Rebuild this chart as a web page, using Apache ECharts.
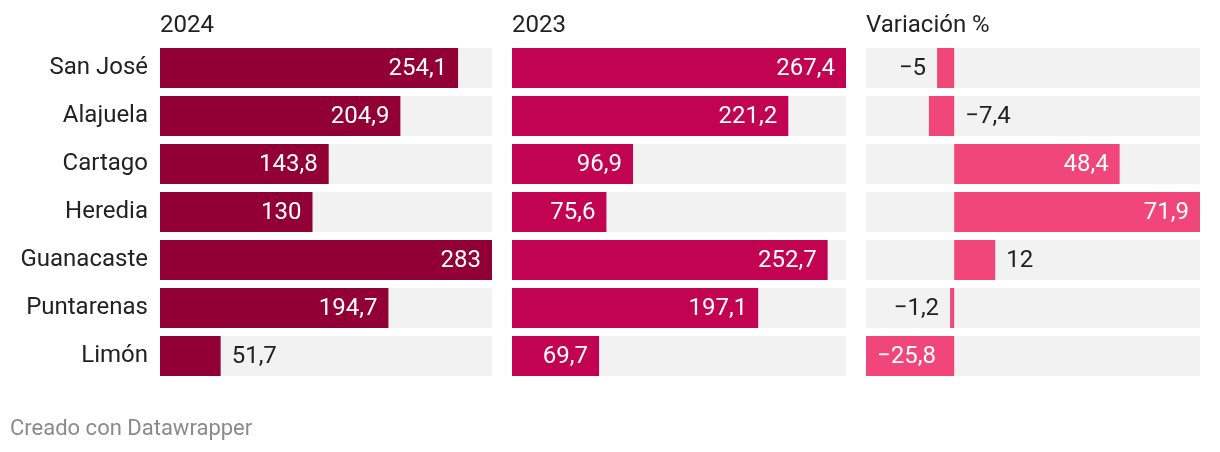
<!DOCTYPE html>
<html><head><meta charset="utf-8">
<script src="https://cdn.jsdelivr.net/npm/echarts@6/dist/echarts.min.js"></script>
<style>html,body{margin:0;padding:0;background:#fff}#c{width:1220px;height:452px}</style>
</head><body><div id="c"></div>
<script>
const categories = ['San José','Alajuela','Cartago','Heredia','Guanacaste','Puntarenas','Limón'];
const values2024 = [254.1, 204.9, 143.8, 130, 283, 194.7, 51.7];
const values2023 = [267.4, 221.2, 96.9, 75.6, 252.7, 197.1, 69.7];
const variacion = [-5, -7.4, 48.4, 71.9, 12, -1.2, -25.8];
const headers = ['2024', '2023', 'Variación %'];

const FONT = 'Roboto';
const FS = 24;
const DARK = '#222222';
const colors = ['#920033', '#c20351', '#f0467a'];
const varLabelPos = ['left','right','insideRight','insideRight','right','left','insideLeft'];

const fmt = v => (v < 0 ? '\u2212' : '') + String(Math.abs(v)).replace('.', ',');

const grids = [
  {left:160, width:332, top:44, height:336},
  {left:512, width:334, top:44, height:336},
  {left:866, width:334, top:44, height:336}
];

function makeData(vals, panel, maxW, minV, maxV) {
  return vals.map((v, i) => {
    let pos, inside;
    if (panel === 2) {
      pos = varLabelPos[i];
      inside = pos.indexOf('inside') === 0;
    } else {
      const px = (v - minV) / (maxV - minV) * maxW;
      inside = px > 72;
      pos = inside ? 'insideRight' : 'right';
    }
    return {value: v, label: {position: pos, color: inside ? '#ffffff' : DARK}};
  });
}

const sets = [values2024, values2023, variacion];
const xAxes = sets.map((vals, k) => ({
  gridIndex: k, type: 'value',
  min: k === 2 ? Math.min(...vals) : 0,
  max: Math.max(...vals),
  show: false
}));
const yAxes = sets.map((vals, k) => ({
  gridIndex: k, type: 'category', data: categories, inverse: true,
  axisLine: {show: false}, axisTick: {show: false}, splitLine: {show: false},
  axisLabel: {show: k === 0, margin: 12, fontFamily: FONT, fontSize: FS, color: DARK,
              padding: [2, 0, 0, 0]}
}));
const series = sets.map((vals, k) => ({
  type: 'bar', xAxisIndex: k, yAxisIndex: k,
  data: makeData(vals, k, grids[k].width, xAxes[k].min, xAxes[k].max),
  barWidth: 40,
  itemStyle: {color: colors[k]},
  showBackground: true,
  backgroundStyle: {color: '#f2f2f2'},
  label: {show: true, distance: 11, offset: [0, 1], fontFamily: FONT, fontSize: FS,
          formatter: p => fmt(p.value)},
  silent: true, animation: false
}));

const titles = headers.map((h, k) => ({
  text: h, left: grids[k].left, top: 14, padding: 0,
  textStyle: {fontFamily: FONT, fontSize: FS, fontWeight: 'normal', color: DARK}
}));
titles.push({
  text: 'Creado con Datawrapper', left: 10, top: 418, padding: 0,
  textStyle: {fontFamily: FONT, fontSize: 22, fontWeight: 'normal', color: '#8a8a8a'}
});

const chart = echarts.init(document.getElementById('c'));
chart.setOption({
  animation: false,
  title: titles,
  grid: grids,
  xAxis: xAxes,
  yAxis: yAxes,
  series: series
});
</script>
</body></html>
